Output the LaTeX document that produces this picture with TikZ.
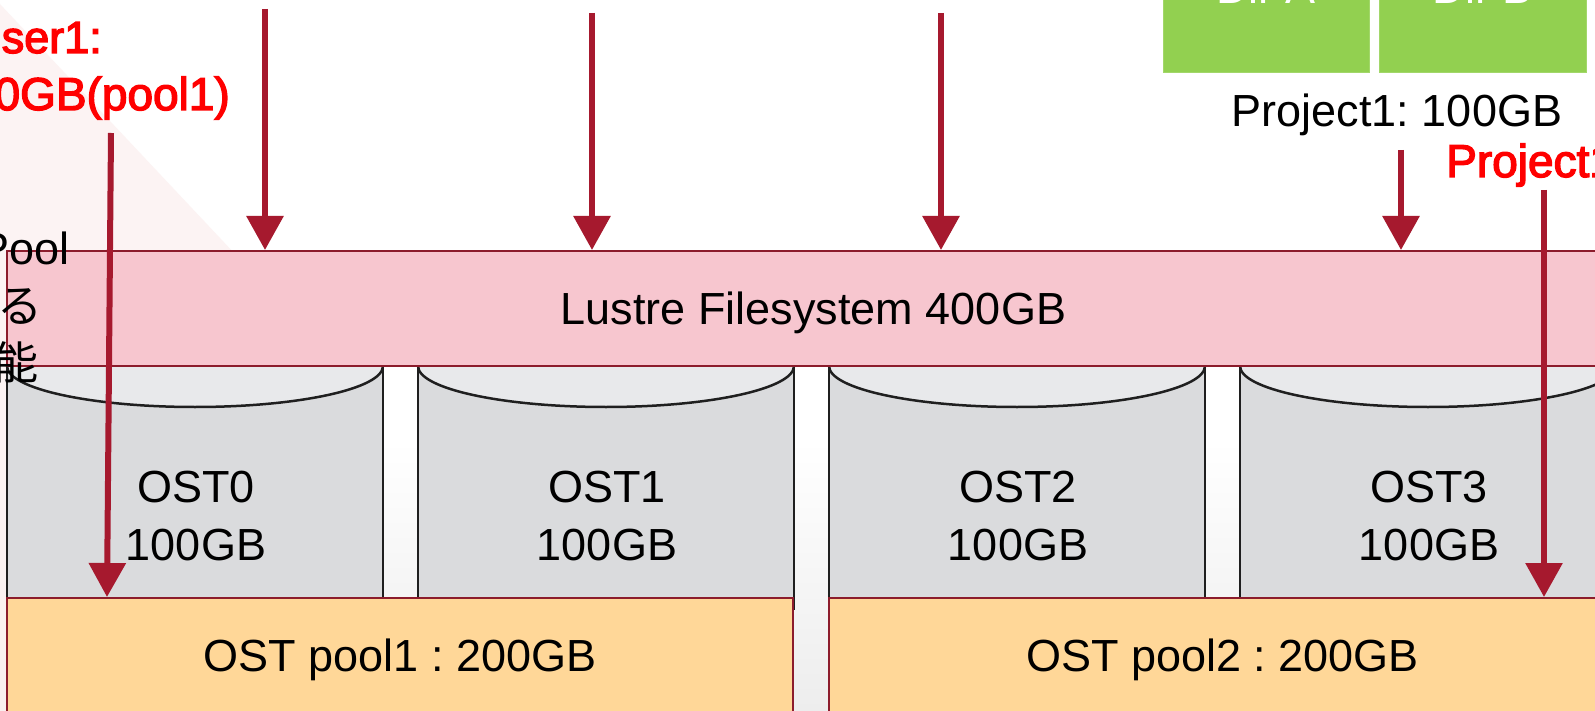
\documentclass[tikz,border=0pt]{standalone}
\usepackage{fontspec}
\setmainfont{Liberation Sans}
\newfontfamily\redfont[FakeBold=3]{Liberation Sans}
\newfontfamily\jpfont{Noto Sans CJK JP}
\usetikzlibrary{arrows.meta}
\definecolor{arrowred}{HTML}{A6192E}
\definecolor{lustrefill}{HTML}{F7C6CF}
\definecolor{boxedge}{HTML}{8C1C2C}
\definecolor{poolfill}{HTML}{FFD798}
\definecolor{cylbody}{HTML}{DADBDD}
\definecolor{cyltop}{HTML}{E8E9EB}
\definecolor{cyledgecol}{HTML}{1F1F1F}
\definecolor{dirgreen}{HTML}{92D050}
\definecolor{textred}{HTML}{FF0000}
\definecolor{bggray}{HTML}{EDEDED}
\definecolor{pinkbg}{HTML}{FCF1F0}
\newcommand\fsbig{\frenchspacing\fontsize{45pt}{54pt}\selectfont}
\newcommand\fsredA{\redfont\fontsize{45pt}{54pt}\selectfont}
\newcommand\fsredB{\redfont\fontsize{46pt}{55pt}\selectfont}
\newcommand\fsjp{\jpfont\fontsize{45pt}{54pt}\selectfont}
\tikzset{
 arr/.style={draw=arrowred, line width=6pt, -{Triangle[width=36pt,length=34pt]}},
 bigbox/.style={font=\fsbig, text height=32pt, text depth=0pt, inner sep=0pt},
 lustrebox/.style={bigbox, fill=lustrefill, draw=boxedge, line width=2pt},
 poolbox/.style={bigbox, fill=poolfill, draw=boxedge, line width=2pt},
 dirbox/.style={bigbox, fill=dirgreen, draw=dirgreen!85!white, line width=1pt, text=white},
 lbl/.style={font=\fsbig, inner sep=0pt},
 redlbl/.style={inner sep=0pt, text=textred},
 cyledge/.style={draw=cyledgecol, line width=2.5pt},
}
\begin{document}
\begin{tikzpicture}[x=1pt,y=-1pt]
\useasboundingbox (0,0) rectangle (1595,711);
% background
\fill[white] (0,0) rectangle (1595,711);
\shade[top color=white, bottom color=bggray] (0,440) rectangle (1595,711);
\fill[pinkbg, opacity=0.8] (0,4) -- (236,255) -- (300,711) -- (0,711) -- cycle;

% cylinders (OSTs)
\foreach \xl/\n in {7/0,418/1,829/2,1240/3}{
  \pgfmathsetmacro\xr{\xl+376}
  \pgfmathsetmacro\cx{\xl+188}
  \fill[cylbody] (\xl,340) rectangle (\xr,620);
  \fill[cyltop] (\cx,366) ellipse [x radius=188, y radius=41];
  \draw[cyledge] (\xl,366) arc[start angle=180, end angle=0, x radius=188, y radius=41];
  \draw[cyledge] (\xl,350) -- (\xl,610) (\xr,350) -- (\xr,610);
  \node[lbl, anchor=base] (ost\n) at (\cx+1,502) {OST\n};
  \node[lbl, anchor=base] (ostcap\n) at (\cx+1,560) {100GB};
}

% Lustre filesystem bar
\node[lustrebox, minimum width=1613pt, minimum height=115pt] (lustre) at (813.5,308.5) {Lustre Filesystem 400GB};

% OST pools
\node[poolbox, minimum width=786pt, minimum height=115pt] (pool1) at (400,655.5) {OST pool1 : 200GB};
\node[poolbox, minimum width=787pt, minimum height=115pt] (pool2) at (1222.5,655.5) {OST pool2 : 200GB};

% directories
\node[dirbox, minimum width=206pt, minimum height=170pt] (dira) at (1266,-12) {Dir A};
\node[dirbox, minimum width=207pt, minimum height=170pt] (dirb) at (1482.5,-12) {Dir B};

% labels
\node[lbl, anchor=base] (projlbl) at (1397,127) {Project1: 100GB};
\node[redlbl, font=\fsredA, anchor=base east] (usera) at (102,53) {User1:};
\node[redlbl, font=\fsredB, anchor=base east] (userb) at (230,110) {100GB(pool1)};
\node[redlbl, font=\fsredB, anchor=base west] (projred) at (1446,177) {Project1};

% partial text at left edge
\node[lbl, anchor=base east] (jpa) at (70,265) {Pool};
\node[inner sep=0pt, font=\fsjp, anchor=base east] (jpb) at (43,322) {する};
\node[inner sep=0pt, font=\fsjp, anchor=base east] (jpc) at (39,379) {可能};

% arrows
\coordinate (s1) at (265,9);
\coordinate (s2) at (592,13);
\coordinate (s3) at (941,13);
\coordinate (s4) at (1401,150);
\draw[arr] (s1) -- (s1 |- lustre.north);
\draw[arr] (s2) -- (s2 |- lustre.north);
\draw[arr] (s3) -- (s3 |- lustre.north);
\draw[arr] (s4) -- (s4 |- lustre.north);
\coordinate (su) at (111,133);
\coordinate (eu) at (107,0);
\draw[arr] (su) -- (eu |- pool1.north);
\coordinate (sp) at (1544,190);
\draw[arr] (sp) -- (sp |- pool2.north);
\end{tikzpicture}
\end{document}
